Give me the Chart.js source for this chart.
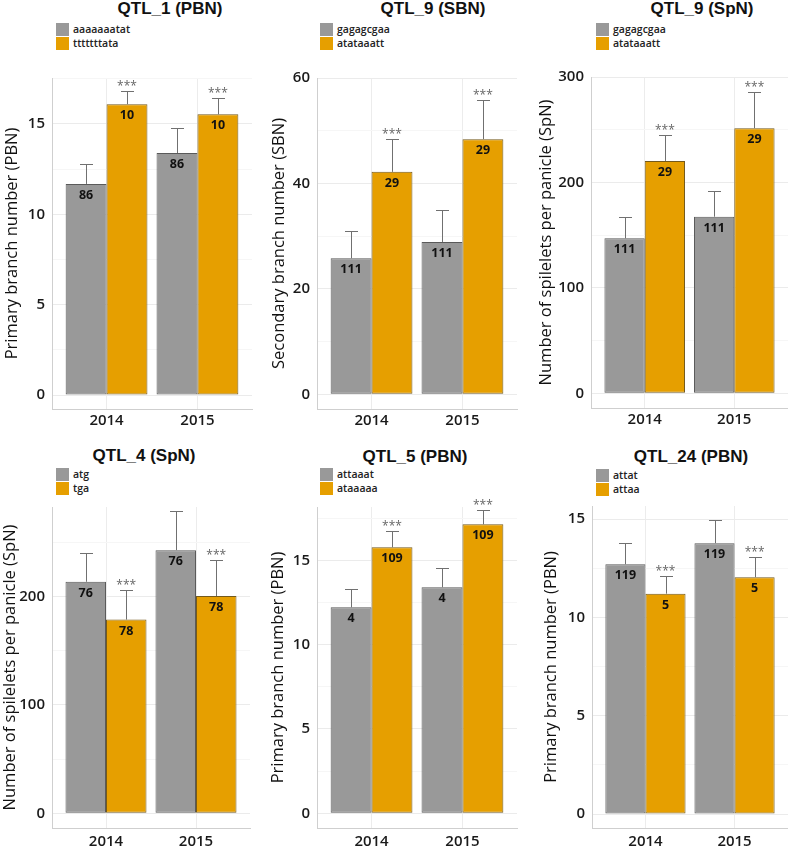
<!DOCTYPE html>
<html>
<head>
<meta charset="utf-8">
<title>QTL allele effects</title>
<script src="https://cdn.jsdelivr.net/npm/chart.js@4.4.1/dist/chart.umd.min.js"></script>
<style>
  html, body { margin: 0; padding: 0; background: #fff; }
  body { width: 788px; height: 847px; position: relative; overflow: hidden; font-family: "Open Sans", sans-serif; }
  .box { position: absolute; }
  .ttl { position: absolute; font: bold 17px "Liberation Sans", Arial, sans-serif; color: #111;
         transform: translateX(-50%); white-space: nowrap; line-height: 20px; }
  .leg { position: absolute; font: 600 10.5px "Open Sans", sans-serif; color: #222; }
  .leg div { height: 14px; line-height: 14px; display: flex; align-items: center; }
  .leg span { display: inline-block; width: 13px; height: 13px; margin-right: 4px; }
</style>
</head>
<body>
<script>
// ---- data ----
const years = ["2014", "2015"];

// QTL_1 (PBN)
const q1Alleles = ["aaaaaaatat", "tttttttata"];
const q1Ref = [11.68, 13.39], q1RefErr = [12.78, 14.78], q1RefN = [86, 86];
const q1Alt = [16.09, 15.53], q1AltErr = [16.80, 16.42], q1AltN = [10, 10];
const q1Ticks = [0, 5, 10, 15];

// QTL_9 (SBN)
const q9sAlleles = ["gagagcgaa", "atataaatt"];
const q9sRef = [25.8, 28.9], q9sRefErr = [30.9, 35.0], q9sRefN = [111, 111];
const q9sAlt = [42.2, 48.4], q9sAltErr = [48.5, 55.9], q9sAltN = [29, 29];
const q9sTicks = [0, 20, 40, 60];

// QTL_9 (SpN)
const q9pAlleles = ["gagagcgaa", "atataaatt"];
const q9pRef = [147, 167.5], q9pRefErr = [167, 191.5], q9pRefN = [111, 111];
const q9pAlt = [220.4, 251.5], q9pAltErr = [245, 285.8], q9pAltN = [29, 29];
const q9pTicks = [0, 100, 200, 300];

// QTL_4 (SpN)
const q4Alleles = ["atg", "tga"];
const q4Ref = [213.7, 242.9], q4RefErr = [240.7, 279], q4RefN = [76, 76];
const q4Alt = [178.8, 200.5], q4AltErr = [206, 234], q4AltN = [78, 78];
const q4Ticks = [0, 100, 200];

// QTL_5 (PBN)
const q5Alleles = ["attaaat", "ataaaaa"];
const q5Ref = [12.21, 13.40], q5RefErr = [13.28, 14.52], q5RefN = [4, 4];
const q5Alt = [15.77, 17.13], q5AltErr = [16.72, 17.96], q5AltN = [109, 109];
const q5Ticks = [0, 5, 10, 15];

// QTL_24 (PBN)
const q24Alleles = ["attat", "attaa"];
const q24Ref = [12.71, 13.78], q24RefErr = [13.79, 14.96], q24RefN = [119, 119];
const q24Alt = [11.21, 12.05], q24AltErr = [12.11, 13.09], q24AltN = [5, 5];
const q24Ticks = [0, 5, 10, 15];

const sigMarks = ["***", "***"];

// ---- layout / style ----
const GREY = "#999999", ORANGE = "#E69F00";
const GREY_EDGE = "#5a5a5a", ORANGE_EDGE = "#745a1c";

const panels = [
  { title: "QTL_1 (PBN)", yTitle: "Primary branch number (PBN)", alleles: q1Alleles,
    ref: q1Ref, refErr: q1RefErr, refN: q1RefN, alt: q1Alt, altErr: q1AltErr, altN: q1AltN,
    ticks: q1Ticks, yMin: -0.77, yMax: 17.54,
    left: 0, top: 60, w: 262, h: 372, yW: 52, padR: 10, padT: 18, xH: 23, xPad: 3, titlePad: 2,
    tx: 170, ty: 9, lx: 56, ly: 22 },
  { title: "QTL_9 (SBN)", yTitle: "Secondary branch number (SBN)", alleles: q9sAlleles,
    ref: q9sRef, refErr: q9sRefErr, refN: q9sRefN, alt: q9sAlt, altErr: q9sAltErr, altN: q9sAltN,
    ticks: q9sTicks, yMin: -2.78, yMax: 60,
    left: 262, top: 60, w: 264, h: 372, yW: 55, padR: 9, padT: 18, xH: 23, xPad: 3, titlePad: 7,
    tx: 433, ty: 9, lx: 320, ly: 22 },
  { title: "QTL_9 (SpN)", yTitle: "Number of spilelets per panicle (SpN)", alleles: q9pAlleles,
    ref: q9pRef, refErr: q9pRefErr, refN: q9pRefN, alt: q9pAlt, altErr: q9pAltErr, altN: q9pAltN,
    ticks: q9pTicks, yMin: -13.9, yMax: 300,
    left: 526, top: 60, w: 262, h: 372, yW: 65, padR: 0, padT: 17, xH: 24, xPad: 3, titlePad: 10,
    tx: 702, ty: 9, lx: 596, ly: 22 },
  { title: "QTL_4 (SpN)", yTitle: "Number of spilelets per panicle (SpN)", alleles: q4Alleles,
    ref: q4Ref, refErr: q4RefErr, refN: q4RefN, alt: q4Alt, altErr: q4AltErr, altN: q4AltN,
    ticks: q4Ticks, yMin: -13.5, yMax: 282.7,
    left: 0, top: 490, w: 262, h: 357, yW: 52, padR: 12, padT: 17, xH: 19, xPad: 5, titlePad: 0,
    tx: 144, ty: 456, lx: 56, ly: 467 },
  { title: "QTL_5 (PBN)", yTitle: "Primary branch number (PBN)", alleles: q5Alleles,
    ref: q5Ref, refErr: q5RefErr, refN: q5RefN, alt: q5Alt, altErr: q5AltErr, altN: q5AltN,
    ticks: q5Ticks, yMin: -0.87, yMax: 18.16,
    left: 262, top: 490, w: 264, h: 357, yW: 55, padR: 9, padT: 17, xH: 19, xPad: 5, titlePad: 6,
    tx: 415, ty: 457, lx: 320, ly: 467 },
  { title: "QTL_24 (PBN)", yTitle: "Primary branch number (PBN)", alleles: q24Alleles,
    ref: q24Ref, refErr: q24RefErr, refN: q24RefN, alt: q24Alt, altErr: q24AltErr, altN: q24AltN,
    ticks: q24Ticks, yMin: -0.71, yMax: 15.67,
    left: 526, top: 490, w: 262, h: 357, yW: 66, padR: 0, padT: 16, xH: 19, xPad: 5, titlePad: 15,
    tx: 691, ty: 457, lx: 596, ly: 468 }
];

// error bars, group sizes and significance stars
const barNotes = {
  id: "barNotes",
  afterDatasetsDraw(chart) {
    const { ctx } = chart;
    const ys = chart.scales.y;
    chart.data.datasets.forEach((ds, di) => {
      chart.getDatasetMeta(di).data.forEach((bar, i) => {
        const x = Math.round(bar.x) + 0.5;
        const top = Math.round(ys.getPixelForValue(ds.errHi[i])) + 0.5;
        ctx.save();
        ctx.strokeStyle = "#707070";
        ctx.lineWidth = 1;
        ctx.beginPath();
        ctx.moveTo(x, bar.y);
        ctx.lineTo(x, top);
        ctx.moveTo(x - 6.5, top);
        ctx.lineTo(x + 6.5, top);
        ctx.stroke();
        ctx.textAlign = "center";
        ctx.textBaseline = "alphabetic";
        ctx.fillStyle = "#111";
        ctx.font = 'bold 12.5px "Open Sans"';
        ctx.fillText(String(ds.counts[i]), bar.x, bar.y + 15);
        if (ds.sig) {
          ctx.fillStyle = "#666";
          ctx.font = '12px "Open Sans"';
          ctx.fillText(ds.sig[i], bar.x, top - 2);
        }
        ctx.restore();
      });
    });
  }
};

function addHeader(p) {
  const t = document.createElement("div");
  t.className = "ttl";
  t.style.left = p.tx + "px";
  t.style.top = (p.ty - 10) + "px";
  t.textContent = p.title;
  document.body.appendChild(t);

  const leg = document.createElement("div");
  leg.className = "leg";
  leg.style.left = p.lx + "px";
  leg.style.top = p.ly + "px";
  [GREY, ORANGE].forEach((c, k) => {
    const row = document.createElement("div");
    const sw = document.createElement("span");
    sw.style.background = c;
    row.appendChild(sw);
    row.appendChild(document.createTextNode(p.alleles[k]));
    leg.appendChild(row);
  });
  document.body.appendChild(leg);
}

function mkPanel(p) {
  addHeader(p);
  const box = document.createElement("div");
  box.className = "box";
  Object.assign(box.style, { left: p.left + "px", top: p.top + "px", width: p.w + "px", height: p.h + "px" });
  const cv = document.createElement("canvas");
  box.appendChild(cv);
  document.body.appendChild(box);

  const step = p.ticks[1] - p.ticks[0];
  const allTicks = [];
  p.ticks.forEach(v => { allTicks.push(v); if (v + step / 2 <= p.yMax) allTicks.push(v + step / 2); });
  const major = new Set(p.ticks);

  const pts = arr => arr.map((v, i) => ({ x: i + 1, y: v }));

  return new Chart(cv.getContext("2d"), {
    type: "bar",
    data: {
      datasets: [
        { label: p.alleles[0], data: pts(p.ref), errHi: p.refErr, counts: p.refN,
          backgroundColor: GREY, borderColor: GREY_EDGE, borderWidth: 1, borderSkipped: false },
        { label: p.alleles[1], data: pts(p.alt), errHi: p.altErr, counts: p.altN, sig: sigMarks,
          backgroundColor: ORANGE, borderColor: ORANGE_EDGE, borderWidth: 1, borderSkipped: false }
      ]
    },
    options: {
      responsive: true,
      maintainAspectRatio: false,
      animation: false,
      categoryPercentage: 0.9,
      barPercentage: 1.0,
      layout: { padding: { top: p.padT, right: p.padR, left: 0, bottom: 0 } },
      scales: {
        x: {
          type: "linear", min: 0.4, max: 2.6, offset: false,
          afterBuildTicks: s => { s.ticks = [{ value: 1 }, { value: 2 }]; },
          afterFit: s => { s.height = p.xH; },
          ticks: { autoSkip: false, padding: p.xPad, color: "#1a1a1a",
                   font: { family: "Open Sans", size: 15, weight: "600" },
                   callback: v => years[v - 1] },
          grid: { offset: false, color: "#ececec", drawTicks: false },
          border: { display: true, color: "#cfcfcf" }
        },
        y: {
          min: p.yMin, max: p.yMax,
          afterBuildTicks: s => { s.ticks = allTicks.map(v => ({ value: v })); },
          afterFit: s => { s.width = p.yW; },
          ticks: { autoSkip: false, padding: 7, color: "#1a1a1a",
                   font: { family: "Open Sans", size: 15, weight: "600" },
                   callback: v => (major.has(v) ? String(v) : "") },
          grid: { drawTicks: false, color: c => (major.has(c.tick.value) ? "#ebebeb" : "#f6f6f6") },
          border: { display: true, color: "#cfcfcf" },
          title: { display: true, text: p.yTitle, color: "#111",
                   font: { family: "Open Sans", size: 16.5 }, padding: { top: p.titlePad, bottom: 0 } }
        }
      },
      plugins: { legend: { display: false }, tooltip: { enabled: false } }
    },
    plugins: [barNotes]
  });
}

panels.forEach(mkPanel);
</script>
</body>
</html>
